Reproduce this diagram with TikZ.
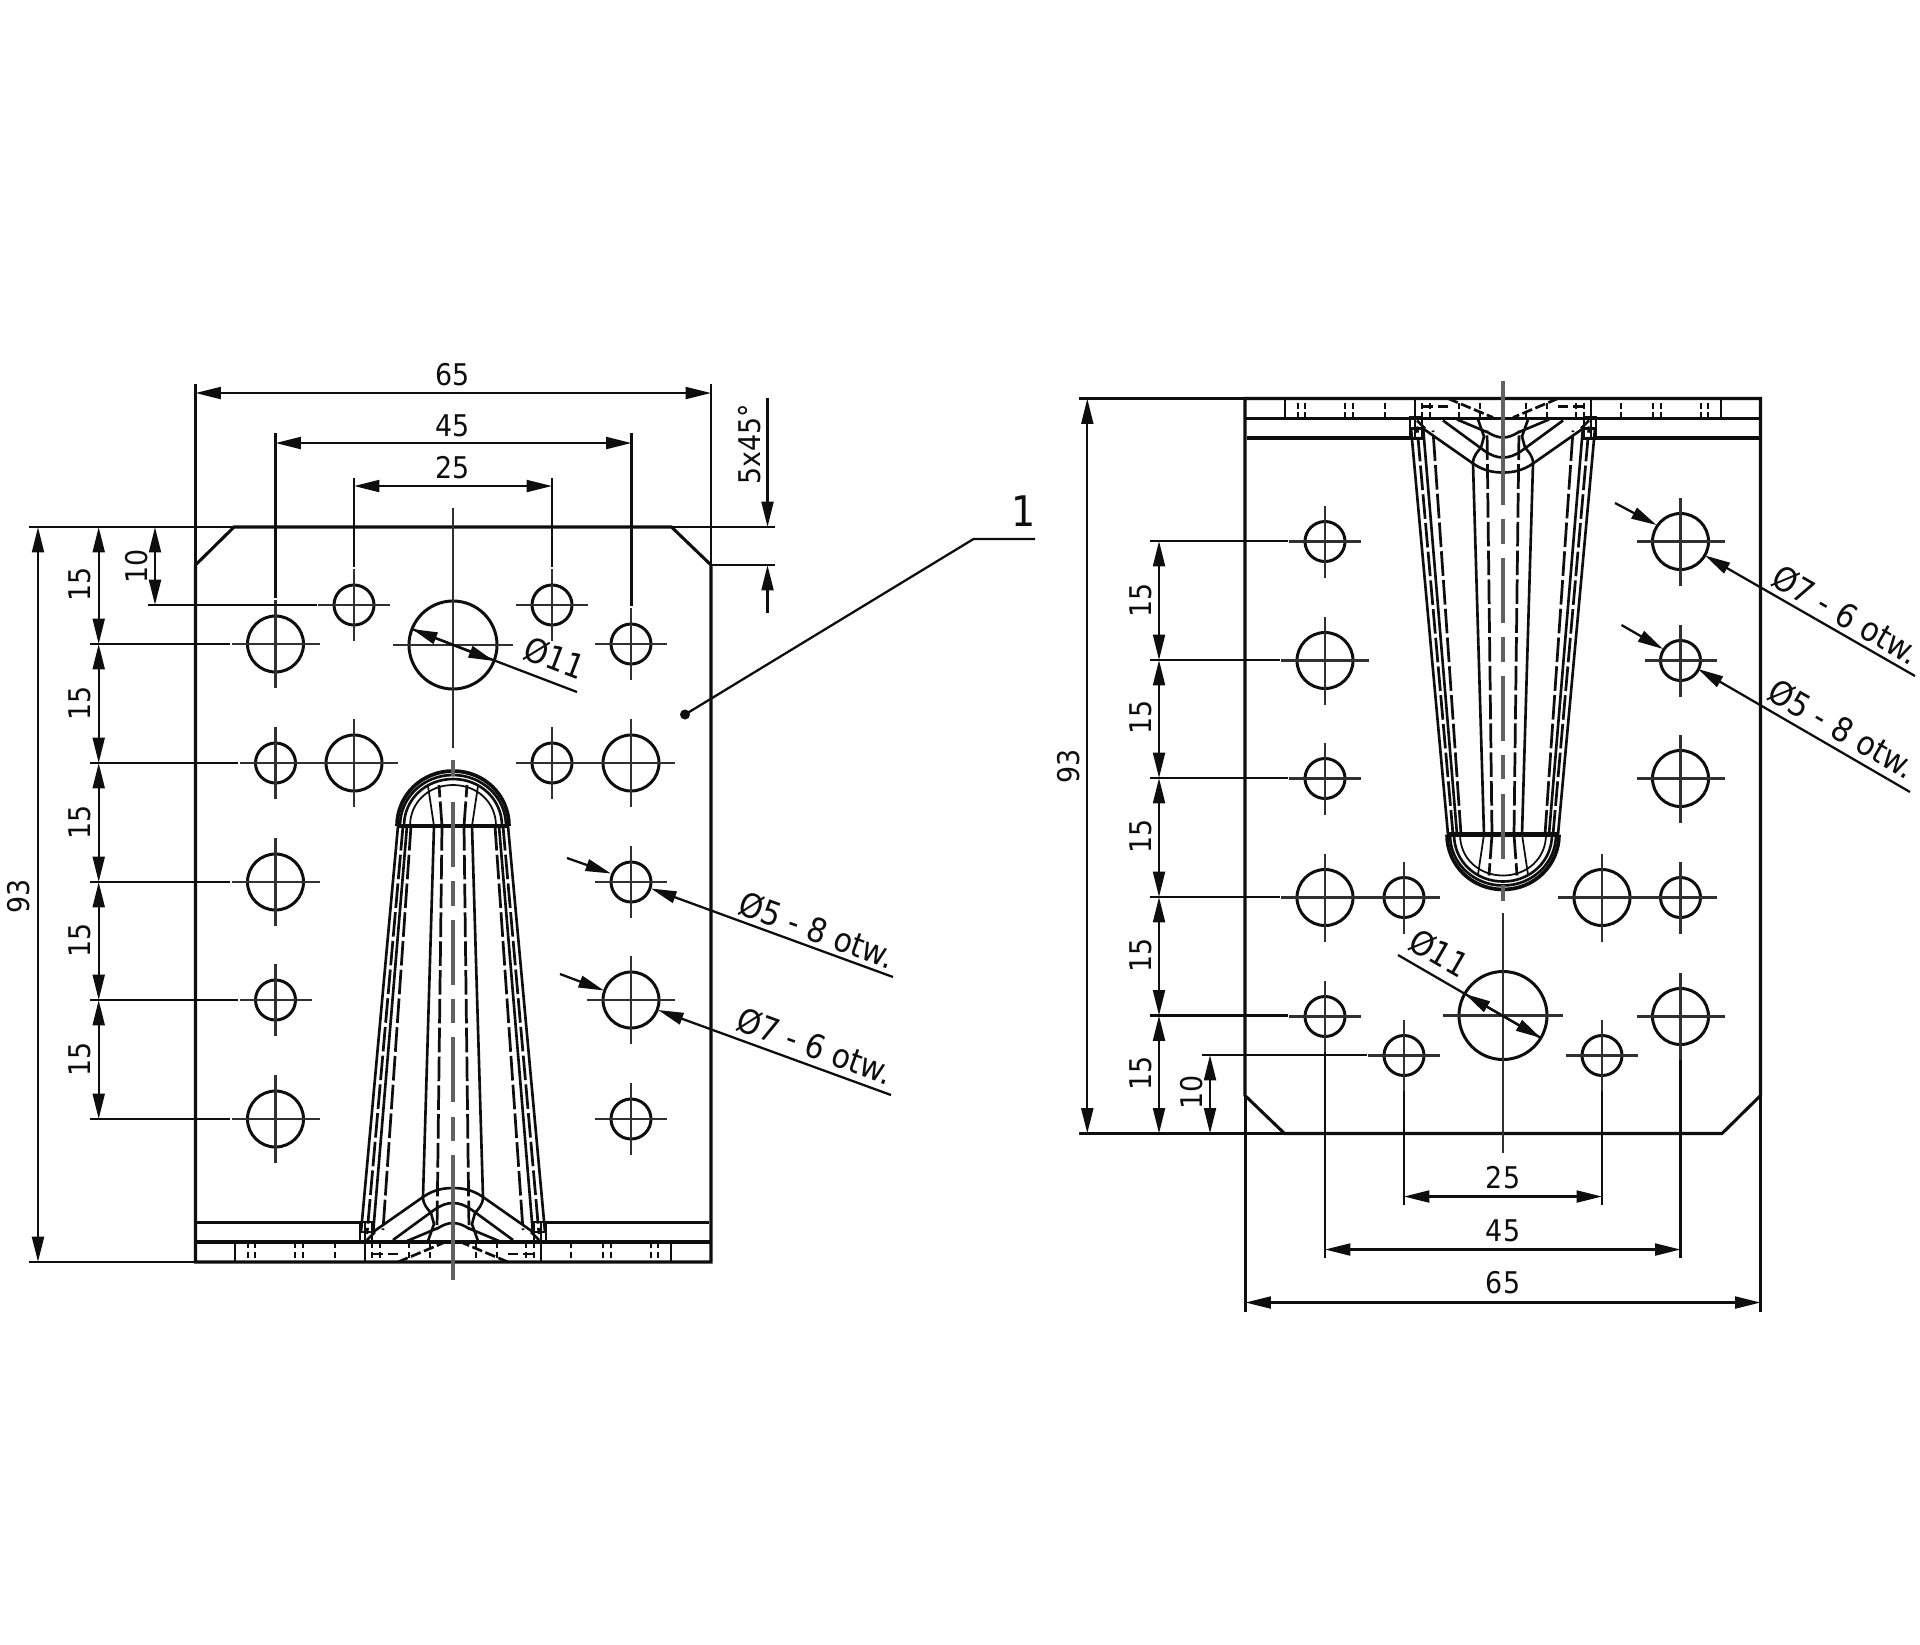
\documentclass[tikz,border=0pt]{standalone}
\usepackage{fontspec}
\setmainfont[FakeStretch=0.9]{DejaVu Sans}
\usetikzlibrary{arrows.meta}
\definecolor{ink}{HTML}{0E0E0E}
\definecolor{cent}{HTML}{303030}
\tikzset{
  outline/.style={line width=1.75pt,draw=ink,line join=miter},
  thinl/.style={line width=1.3pt,draw=ink},
  centl/.style={line width=1.3pt,draw=cent},
  tabs/.style={line width=1.5pt,draw=ink},
  tabd/.style={line width=1.55pt,draw=ink,dash pattern=on 14pt off 2.4pt},
  tabc/.style={line width=2pt,draw=black!62,dash pattern=on 37pt off 8pt on 14pt off 8pt},
  hid/.style={line width=1.3pt,draw=ink,dash pattern=on 3.5pt off 2pt},
  holec/.style={line width=1.7pt,draw=ink},
  tip/.style={-{Triangle[length=14.5pt,width=6.8pt]}},
  dimb/.style={{Triangle[length=14.5pt,width=6.8pt]}-{Triangle[length=14.5pt,width=6.8pt]},line width=1.3pt,draw=ink},
  dimh/.style={{Triangle[length=14.5pt,width=6.8pt]}-{Triangle[length=14.5pt,width=6.8pt]},line width=1.3pt,draw=ink},
  dtxt/.style={inner sep=0pt,text=ink,font=\fontsize{17}{20}\selectfont},
  ltxt/.style={inner sep=0pt,text=ink,font=\fontsize{19}{22}\selectfont},
}
\newcommand{\mkhole}[4]{%
  \draw[holec] (#1,#2) circle[radius=#3];
  \draw[centl] (#1-#4,#2) -- (#1+#4,#2);
  \draw[centl] (#1,#2-#4) -- (#1,#2+#4);
}
\newcommand{\tabhalf}{%
  % tapering sides
  \draw[tabs] (398,826) -- (361,1232);
  \draw[tabd] (403,826) -- (367,1234);
  \draw[tabs] (407,826) -- (373,1234);
  \draw[tabd] (411,826) -- (383,1230);
  \draw[tabs] (434,826) -- (423,1197);
  \draw[tabd] (442,826) -- (437,1230);
  % head arcs
  \draw[outline,line width=2.1pt] (397,826) .. controls (397,795) and (422,771) .. (453,771);
  \draw[tabs] (400,826) .. controls (400,797) and (424,775) .. (453,775);
  \draw[tabs] (404,826) .. controls (404,799) and (426,779) .. (453,779);
  \draw[line width=1pt,draw=ink] (410,826) .. controls (410,802) and (429,785) .. (453,785);
  \draw[line width=1pt,draw=ink] (434,826) -- (428,786);
  \draw[tabd] (442,826) -- (439,785);
  % chevrons at the root
  \draw[tabs] (373,1232) -- (423,1197) .. controls (433,1190) and (443,1188) .. (453,1188);
  \draw[tabs] (393,1240) -- (434,1210) .. controls (441,1205) and (447,1203) .. (453,1203);
  \draw[tabs] (407,1241) -- (438,1228) .. controls (443,1225) and (448,1223) .. (453,1223);
  \draw[tabs] (423,1197) .. controls (423,1205) and (428,1209) .. (431,1213) -- (434,1224) -- (428,1241);
  % root corner
  \draw[thinl] (360,1222) rectangle (372,1243);
  \draw[thinl] (360,1232) -- (372,1232);
  \draw[thinl] (365,1222) -- (365,1262);
  \draw[tabs] (367,1240) -- (375,1232);
  \draw[hid] (372,1242) -- (372,1262);
  \draw[hid] (380,1242) -- (380,1262);
  \draw[hid] (409,1242) -- (409,1262);
  \draw[hid] (430,1242) -- (430,1262);
  \draw[tabd,dash pattern=on 6pt off 2pt] (398,1262) -- (443,1243);
  \draw[tabd,dash pattern=on 6pt off 3pt] (372,1254) -- (400,1254);
  % flange
  \draw[outline] (197,1222.5) -- (360,1222.5);
  \draw[tabs] (235,1242) -- (235,1262);
  \foreach \xx in {248,255,295,303,335} \draw[hid] (\xx,1242) -- (\xx,1262);
}
\newcommand{\plate}{%
  \draw[outline] (234,527) -- (671.5,527) -- (711,565) -- (711,1262) -- (195.5,1262) -- (195.5,565) -- cycle;
  \draw[outline] (195.5,1242) -- (711,1242);
  \tabhalf
  \begin{scope}[shift={(906,0)},xscale=-1]\tabhalf\end{scope}
  \draw[outline,line width=2.4pt] (397,826) -- (509,826);
  \draw[tabc] (453,802) -- (453,1157);
  \draw[line width=1.8pt,draw=black!62] (453,1157) -- (453,1280);
  \draw[line width=1.8pt,draw=black!62] (453,760) -- (453,776);
  \mkhole{275.5}{644}{28}{44}
  \mkhole{354}{605}{20}{36}
  \mkhole{552}{605}{20}{36}
  \mkhole{631}{644}{20}{36}
  \mkhole{275.5}{763}{20}{36}
  \mkhole{354}{763}{28}{44}
  \mkhole{552}{763}{20}{36}
  \mkhole{631}{763}{28}{44}
  \mkhole{275.5}{882}{28}{44}
  \mkhole{631}{882}{20}{36}
  \mkhole{275.5}{1000}{20}{36}
  \mkhole{631}{1000}{28}{44}
  \mkhole{275.5}{1119}{28}{44}
  \mkhole{631}{1119}{20}{36}
  \draw[holec] (453,645) circle[radius=44];
  \draw[centl] (393,645) -- (513,645);
  \draw[centl] (453,508) -- (453,748);
}
\begin{document}
\begin{tikzpicture}[x=0.02cm,y=-0.02cm]
\useasboundingbox (0,0) rectangle (1920,1644);
\fill[white] (0,0) rectangle (1920,1644);

\plate
\begin{scope}[shift={(1956,1660.5)},xscale=-1,yscale=-1]\plate\end{scope}

% ---------- left view dimensions
\draw[thinl] (195.5,384) -- (195.5,565);
\draw[thinl] (711,384) -- (711,565);
\draw[thinl] (275.5,433) -- (275.5,598);
\draw[thinl] (631.5,433) -- (631.5,606);
\draw[thinl] (354,478) -- (354,567);
\draw[thinl] (552,478) -- (552,567);
\draw[outline,line width=1.5pt] (29,527) -- (234,527);
\draw[outline,line width=1.5pt] (671,527) -- (775,527);
\draw[thinl] (711,565) -- (775,565);
\draw[thinl] (29,1262) -- (195.5,1262);
\draw[thinl] (148,605) -- (317,605);
\foreach \yy/\xe in {644/230,763/238,882/230,1000/238,1119/230}
  \draw[thinl] (90,\yy) -- (\xe,\yy);
\draw[dimh] (195.5,393) -- (711,393);
\draw[dimh] (275.5,443) -- (631.5,443);
\draw[dimh] (354,486) -- (552,486);
\draw[dimb] (38,527) -- (38,1262);
\draw[dimb] (98.7,527) -- (98.7,644);
\draw[dimb] (98.7,644) -- (98.7,763);
\draw[dimb] (98.7,763) -- (98.7,882);
\draw[dimb] (98.7,882) -- (98.7,1000);
\draw[dimb] (98.7,1000) -- (98.7,1119);
\draw[dimb] (155,527) -- (155,605);
\draw[thinl,tip] (767.5,398) -- (767.5,527);
\draw[thinl,tip] (767.5,613) -- (767.5,565);
\node[dtxt] (la65) at (453,375) {65};
\node[dtxt] (la45) at (453,426) {45};
\node[dtxt] (la25) at (453,468) {25};
\node[dtxt,rotate=90] (la5x) at (750,444) {5x45°};
\node[dtxt,rotate=90] (la93) at (19,896) {93};
\node[dtxt,rotate=90] (la15a) at (80,584) {15};
\node[dtxt,rotate=90] (la15b) at (80,703) {15};
\node[dtxt,rotate=90] (la15c) at (80,822) {15};
\node[dtxt,rotate=90] (la15d) at (80,940) {15};
\node[dtxt,rotate=90] (la15e) at (80,1059) {15};
\node[dtxt,rotate=90] (la10) at (137,566) {10};
% d11
\draw[thinl] (412,629) -- (577,692);
\draw[thinl,tip] (453,645) -- (412,629);
\draw[thinl,tip] (453,645) -- (494,661);
\node[ltxt,rotate=-21] (lad11) at (555,658) {Ø11};
% leader 1
\fill[ink] (685,714.5) circle[radius=5];
\draw[thinl] (685,714.5) -- (973.5,539) -- (1035,539);
\node[inner sep=0pt,text=ink,font=\fontsize{24}{28}\selectfont] (lone) at (1024,511) {1};
% hole callouts
\draw[thinl,tip] (567,858) -- (611,873.5);
\draw[thinl,tip] (893,977) -- (651,888.5);
\node[ltxt,rotate=-20] (lad5) at (817,930) {Ø5 - 8 otw.};
\draw[thinl,tip] (560,974) -- (604,990.5);
\draw[thinl,tip] (891,1095) -- (658,1010);
\node[ltxt,rotate=-20] (lad7) at (815,1046) {Ø7 - 6 otw.};

% ---------- right view dimensions
\draw[thinl] (1245.5,1095) -- (1245.5,1312);
\draw[thinl] (1760.5,1095) -- (1760.5,1312);
\draw[thinl] (1325,1052) -- (1325,1258);
\draw[thinl] (1680.5,1060) -- (1680.5,1258);
\draw[thinl] (1404,1091) -- (1404,1205);
\draw[thinl] (1602,1091) -- (1602,1205);
\draw[thinl] (1079,398.5) -- (1245,398.5);
\draw[outline,line width=1.5pt] (1079,1133.5) -- (1284.5,1133.5);
\draw[thinl] (1202,1055) -- (1367,1055);
\foreach \yy/\xe in {541/1288,660/1280,778/1288,897/1280,1015.5/1288}
  \draw[thinl] (1150,\yy) -- (\xe,\yy);
\draw[dimh] (1245.5,1302.5) -- (1760.5,1302.5);
\draw[dimh] (1325,1249.5) -- (1680.5,1249.5);
\draw[dimh] (1404,1196.5) -- (1602,1196.5);
\draw[dimb] (1087.3,398.5) -- (1087.3,1133.5);
\draw[dimb] (1159,541) -- (1159,660);
\draw[dimb] (1159,660) -- (1159,778);
\draw[dimb] (1159,778) -- (1159,897);
\draw[dimb] (1159,897) -- (1159,1015.5);
\draw[dimb] (1159,1015.5) -- (1159,1133.5);
\draw[dimb] (1210,1055) -- (1210,1133.5);
\node[dtxt] (ra65) at (1503,1283) {65};
\node[dtxt] (ra45) at (1503,1231) {45};
\node[dtxt] (ra25) at (1503,1178) {25};
\node[dtxt,rotate=90] (ra93) at (1069,766) {93};
\node[dtxt,rotate=90] (ra15a) at (1141,600) {15};
\node[dtxt,rotate=90] (ra15b) at (1141,717) {15};
\node[dtxt,rotate=90] (ra15c) at (1141,836) {15};
\node[dtxt,rotate=90] (ra15d) at (1141,955) {15};
\node[dtxt,rotate=90] (ra15e) at (1141,1073) {15};
\node[dtxt,rotate=90] (ra10) at (1192,1092) {10};
\draw[thinl] (1398,955) -- (1541,1038);
\draw[thinl,tip] (1503,1016) -- (1465,994);
\draw[thinl,tip] (1503,1016) -- (1541,1038);
\node[ltxt,rotate=-30] (rad11) at (1439,953) {Ø11};
\draw[thinl,tip] (1615,503) -- (1656.5,525);
\draw[thinl,tip] (1915,676) -- (1705,555.5);
\node[ltxt,rotate=-30] (rad7) at (1846,615) {Ø7 - 6 otw.};
\draw[thinl,tip] (1621.5,625) -- (1663,649);
\draw[thinl,tip] (1910,792) -- (1698,669);
\node[ltxt,rotate=-30] (rad5) at (1842,729) {Ø5 - 8 otw.};
\end{tikzpicture}
\end{document}
